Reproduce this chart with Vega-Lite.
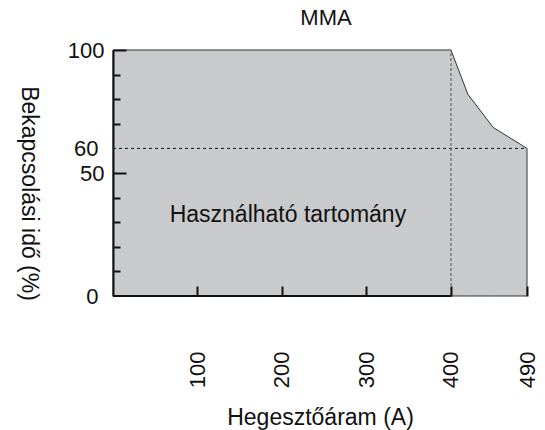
{
  "$schema": "https://vega.github.io/schema/vega-lite/v6.json",
  "width": 414,
  "height": 246,
  "autosize": "none",
  "padding": {"left": 113, "top": 50, "right": 18, "bottom": 134},
  "config": {
    "view": {"stroke": null},
    "font": "Liberation Sans",
    "axis": {"labelFont": "Liberation Sans", "titleFont": "Liberation Sans", "labelColor": "#111", "titleColor": "#111", "labelFontSize": 22, "titleFontSize": 23, "titleFontWeight": "normal", "grid": false}
  },
  "title": {"text": "MMA", "fontSize": 22, "fontWeight": "normal", "font": "Liberation Sans", "color": "#111", "offset": 9, "dx": 6},
  "datasets": {
    "area": [
      {"current": 0, "duty": 100},
      {"current": 400, "duty": 100},
      {"current": 420, "duty": 82},
      {"current": 450, "duty": 68.5},
      {"current": 490, "duty": 60}
    ],
    "hline": [{"x": 0, "x2": 490, "y": 60}],
    "vline": [{"x": 400, "y": 0, "y2": 100}],
    "base": [{"x": 0, "x2": 400, "y": 0}],
    "label": [{"x": 207, "y": 33, "text": "Használható tartomány"}]
  },
  "layer": [
    {
      "data": {"name": "area"},
      "mark": {"type": "area", "color": "#c9cacc", "stroke": "#333", "strokeWidth": 1, "opacity": 1},
      "encoding": {
        "x": {"field": "current", "type": "quantitative", "scale": {"domain": [0, 490], "nice": false},
          "axis": {"values": [100, 200, 300, 400, 490], "tickSize": -10, "tickColor": "#111", "tickWidth": 2, "labelAngle": -90, "labelPadding": 65, "domain": false, "zindex": 1, "title": "Hegesztőáram (A)", "titleY": 121, "titleBaseline": "middle"}},
        "y": {"field": "duty", "type": "quantitative", "scale": {"domain": [0, 100], "nice": false},
          "axis": {"tickCount": 10,
            "labelExpr": "(datum.value == 0 || datum.value == 50 || datum.value == 60 || datum.value == 100) ? datum.label : ''",
            "labelOverlap": false, "labelBound": false, "zindex": 1,
            "tickSize": {"condition": {"test": "datum.value == 50 || datum.value == 100", "value": -13}, "value": -7},
            "tickOpacity": {"condition": {"test": "datum.value == 0 || datum.value == 60", "value": 0}, "value": 1},
            "tickColor": "#111", "tickWidth": 2, "domainColor": "#111", "domainWidth": 2,
            "labelPadding": 22,
            "title": "Bekapcsolási idő (%)", "titleAngle": 90, "titleX": -85, "titleY": 143, "titleAlign": "center", "titleBaseline": "middle"}}
      }
    },
    {
      "data": {"name": "hline"},
      "mark": {"type": "rule", "color": "#111", "strokeDash": [3, 3], "strokeWidth": 1},
      "encoding": {"x": {"field": "x", "type": "quantitative"}, "x2": {"field": "x2"}, "y": {"field": "y", "type": "quantitative"}}
    },
    {
      "data": {"name": "vline"},
      "mark": {"type": "rule", "color": "#666", "strokeDash": [3, 2], "strokeWidth": 1.2},
      "encoding": {"x": {"field": "x", "type": "quantitative"}, "y": {"field": "y", "type": "quantitative"}, "y2": {"field": "y2"}}
    },
    {
      "data": {"name": "base"},
      "mark": {"type": "rule", "color": "#111", "strokeWidth": 2},
      "encoding": {"x": {"field": "x", "type": "quantitative"}, "x2": {"field": "x2"}, "y": {"field": "y", "type": "quantitative"}}
    },
    {
      "data": {"name": "label"},
      "mark": {"type": "text", "fontSize": 23, "font": "Liberation Sans", "color": "#111", "align": "center", "baseline": "middle"},
      "encoding": {"x": {"field": "x", "type": "quantitative"}, "y": {"field": "y", "type": "quantitative"}, "text": {"field": "text"}}
    }
  ]
}
